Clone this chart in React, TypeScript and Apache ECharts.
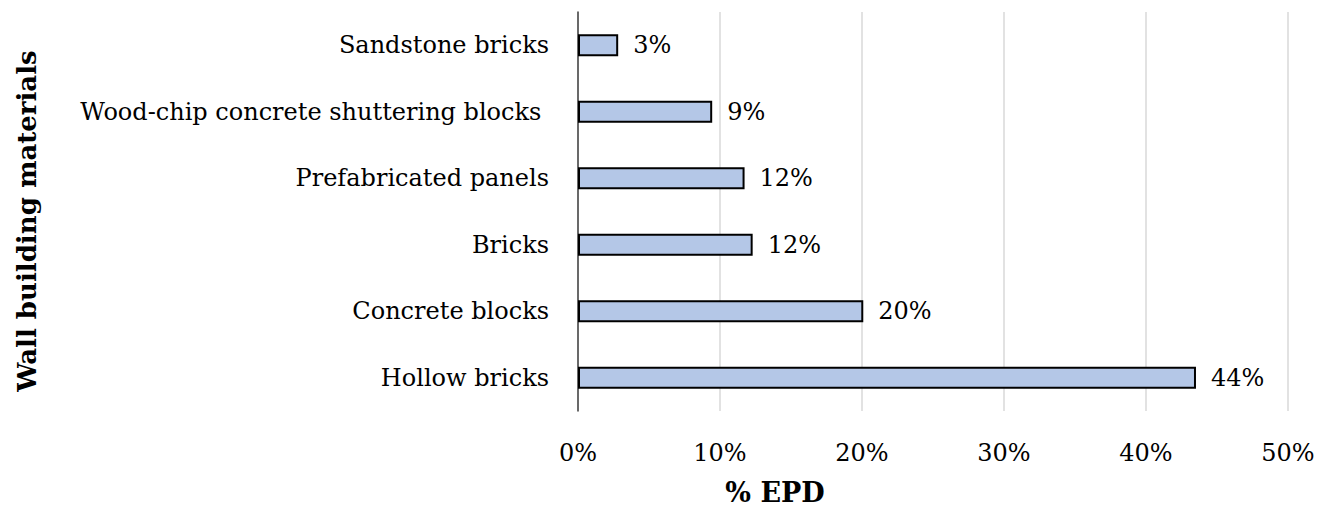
import React, { useEffect, useRef } from "react";
import * as echarts from "echarts";

const categories = [
  "Hollow bricks",
  "Concrete blocks",
  "Bricks",
  "Prefabricated panels",
  "Wood-chip concrete shuttering blocks ",
  "Sandstone bricks",
];
const values = [43.52, 20.09, 12.3, 11.73, 9.45, 2.83];
const xTicks = { min: 0, max: 50, interval: 10 };
const xTitle = "% EPD";
const yTitle = "Wall building materials";

const FONT = "'Palatino Linotype', 'Book Antiqua', Palatino, 'DejaVu Serif', serif";

export default function App() {
  const ref = useRef<HTMLDivElement>(null);
  useEffect(() => {
    if (!ref.current) return;
    const chart = echarts.init(ref.current, undefined, { renderer: "svg" });
    chart.setOption({
      animation: false,
      backgroundColor: "#ffffff",
      grid: { left: 578, right: 38, top: 12, bottom: 98, containLabel: false },
      xAxis: {
        type: "value",
        min: xTicks.min,
        max: xTicks.max,
        interval: xTicks.interval,
        axisLine: { show: false },
        axisTick: { show: false },
        splitLine: { show: true, lineStyle: { color: "#d9d9d9", width: 1.5 } },
        axisLabel: {
          formatter: "{value}%",
          fontFamily: FONT,
          fontSize: 24,
          color: "#000000",
          margin: 30,
        },
      },
      yAxis: {
        type: "category",
        data: categories,
        axisLine: { show: true, lineStyle: { color: "#404040", width: 1.5 } },
        axisTick: { show: false },
        splitLine: { show: false },
        axisLabel: {
          fontFamily: FONT,
          fontSize: 24,
          color: "#000000",
          margin: 29,
        },
      },
      series: [
        {
          type: "bar",
          data: values,
          barWidth: 22,
          itemStyle: { color: "#b4c7e7", borderColor: "#000000", borderWidth: 2 },
          label: {
            show: true,
            position: "right",
            distance: 15,
            fontFamily: FONT,
            fontSize: 24,
            color: "#000000",
            formatter: (p: any) => Math.round(p.value) + "%",
          },
        },
      ],
      graphic: [
        {
          type: "text",
          x: 27,
          y: 221,
          rotation: Math.PI / 2,
          style: {
            text: yTitle,
            fontFamily: FONT,
            fontWeight: "bold",
            fontSize: 26,
            fill: "#000000",
            align: "center",
            verticalAlign: "middle",
          },
        },
        {
          type: "text",
          x: 775,
          y: 492,
          style: {
            text: xTitle,
            fontFamily: FONT,
            fontWeight: "bold",
            fontSize: 27,
            fill: "#000000",
            align: "center",
            verticalAlign: "middle",
          },
        },
      ],
    });
    return () => chart.dispose();
  }, []);
  return <div ref={ref} style={{ width: 1326, height: 509, position: "absolute", left: 0, top: 0 }} />;
}
